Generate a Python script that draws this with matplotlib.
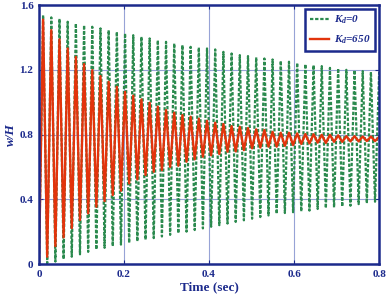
import numpy as np
import matplotlib
matplotlib.use('Agg')
import matplotlib.pyplot as plt

# oscillation period (s)
period = 0.01928

# Kd = 0 : successive peaks and troughs of w/H
peaks_k0 = [1.538, 1.524, 1.515, 1.497, 1.487, 1.476, 1.466, 1.456, 1.445, 1.435,
            1.425, 1.414, 1.404, 1.394, 1.383, 1.373, 1.363, 1.353, 1.342, 1.338,
            1.332, 1.326, 1.311, 1.301, 1.291, 1.285, 1.277, 1.270, 1.264, 1.256,
            1.250, 1.243, 1.235, 1.229, 1.223, 1.212, 1.208, 1.200, 1.198, 1.192,
            1.187, 1.182]
troughs_k0 = [0.005, 0.015, 0.030, 0.045, 0.060, 0.075, 0.090, 0.100, 0.110, 0.120,
              0.130, 0.140, 0.150, 0.160, 0.170, 0.180, 0.190, 0.200, 0.210, 0.220,
              0.230, 0.240, 0.250, 0.260, 0.270, 0.280, 0.290, 0.300, 0.310, 0.315,
              0.320, 0.325, 0.330, 0.340, 0.345, 0.350, 0.355, 0.360, 0.370, 0.375,
              0.385, 0.390]

# Kd = 650
peaks_k650 = [1.510, 1.445, 1.388, 1.332, 1.280, 1.235, 1.198, 1.161, 1.126, 1.095,
              1.064, 1.040, 1.017, 0.996, 0.972, 0.951, 0.935, 0.920, 0.910, 0.898,
              0.885, 0.873, 0.865, 0.852, 0.848, 0.840, 0.832, 0.828, 0.817, 0.811,
              0.811, 0.807, 0.803, 0.802, 0.798, 0.798, 0.795, 0.790, 0.790, 0.788,
              0.788, 0.785]
troughs_k650 = [0.045, 0.111, 0.165, 0.222, 0.272, 0.313, 0.354, 0.389, 0.426, 0.453,
                0.498, 0.523, 0.550, 0.570, 0.580, 0.600, 0.607, 0.632, 0.647, 0.663,
                0.672, 0.680, 0.694, 0.696, 0.704, 0.715, 0.720, 0.725, 0.725, 0.730,
                0.735, 0.742, 0.745, 0.750, 0.748, 0.755, 0.755, 0.758, 0.758, 0.760,
                0.760, 0.762]

navy = '#1c2a8c'
green = '#2b8a4e'
red = '#e2340c'


def zigzag(peaks, troughs):
    vals = [0.0]
    for p, q in zip(peaks, troughs):
        vals += [p, q]
    vals = np.array(vals)
    t = np.arange(len(vals)) * period / 2
    return t, vals


plt.rcParams['mathtext.fontset'] = 'custom'
plt.rcParams['mathtext.it'] = 'Liberation Serif:italic:bold'
plt.rcParams['mathtext.rm'] = 'Liberation Serif:bold'

fig = plt.figure(figsize=(3.88, 2.98), dpi=100)
ax = fig.add_axes([0.1005, 0.114, 0.8765, 0.869])

t0, w0 = zigzag(peaks_k0, troughs_k0)
t1, w1 = zigzag(peaks_k650, troughs_k650)
ax.plot(t0, w0, color=green, lw=1.6, dashes=(1.5, 0.8), label=r'$K_d$=0')
ax.plot(t1, w1, color=red, lw=1.7, label=r'$K_d$=650')

ax.set_xlim(0, 0.8)
ax.set_ylim(0, 1.6)
ax.set_xticks([0, 0.2, 0.4, 0.6, 0.8])
ax.set_xticklabels(['0', '0.2', '0.4', '0.6', '0.8'])
ax.set_yticks([0, 0.4, 0.8, 1.2, 1.6])
ax.set_yticklabels(['0', '0.4', '0.8', '1.2', '1.6'])
ax.grid(True, color='#97a3d6', lw=0.8)
ax.set_axisbelow(True)
for s in ax.spines.values():
    s.set_color(navy)
    s.set_linewidth(1.8)
ax.tick_params(direction='in', length=3, color=navy, top=True, right=True,
               labelsize=8, labelcolor=navy, pad=4)
for lab in ax.get_xticklabels() + ax.get_yticklabels():
    lab.set_fontfamily('Liberation Serif')
    lab.set_fontweight('bold')

ax.set_xlabel('Time (sec)', fontfamily='Liberation Serif', fontweight='bold',
              fontsize=9.5, color=navy, labelpad=2)
ax.set_ylabel('w/H', fontfamily='Liberation Serif', fontweight='bold',
              fontstyle='italic', fontsize=9.5, color=navy, labelpad=2)

leg = ax.legend(loc='upper right', fancybox=False, framealpha=1, edgecolor=navy,
                prop={'family': 'Liberation Serif', 'weight': 'bold',
                      'style': 'italic', 'size': 8},
                handlelength=1.7, handletextpad=0.4, borderpad=0.45,
                labelspacing=0.65, borderaxespad=0.35)
leg.get_frame().set_linewidth(1.8)
for txt in leg.get_texts():
    txt.set_color(navy)

fig.savefig('out.png', dpi=100)
